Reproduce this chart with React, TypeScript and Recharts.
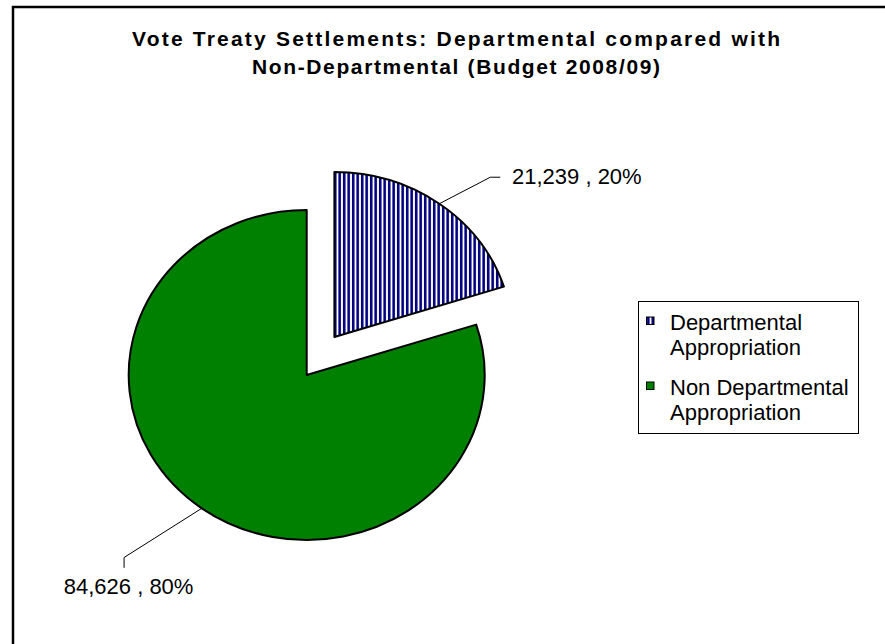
import React from "react";
import { PieChart, Pie, Cell, Legend } from "recharts";

// chart data
const sliceNames = ["Departmental Appropriation", "Non Departmental Appropriation"];
const sliceValues = [21239, 84626];
const legendLines = [
  ["Departmental", "Appropriation"],
  ["Non Departmental", "Appropriation"],
];
const titleLines = [
  "Vote Treaty Settlements:  Departmental compared with",
  "Non-Departmental (Budget 2008/09)",
];

const pieData = sliceNames.map((name, i) => ({ name, value: sliceValues[i] }));

const FONT = "'Liberation Sans', Arial, sans-serif";
const GREEN = "#008000";
const NAVY = "#000080";
const RX_RATIO = 178 / 165; // excel pie is slightly wider than tall
const EXPLODE: Record<string, number> = { "Departmental Appropriation": 47 };

// leader line / label geometry relative to the slice edge
const labelGeom: Record<string, any> = {
  "Departmental Appropriation": { elbow: [51, -26.5], tail: [10, 0], text: [11.7, 6.3], anchor: "start" },
  "Non Departmental Appropriation": { elbow: [-77.7, 49.2], tail: [0, 10.3], text: [4.5, 26.3], anchor: "middle" },
};

const rad = (a: number) => (a * Math.PI) / 180;

function sliceOrigin(cx: number, cy: number, name: string, mid: number) {
  const off = EXPLODE[name] || 0;
  return [cx + off * Math.cos(rad(mid)), cy - off * Math.sin(rad(mid))];
}

function ellPoint(ox: number, oy: number, r: number, a: number) {
  return [ox + r * RX_RATIO * Math.cos(rad(a)), oy - r * Math.sin(rad(a))];
}

function EllipseSector(props: any) {
  const { cx, cy, outerRadius, startAngle, endAngle, fill } = props;
  const name = props.name ?? props.payload?.name;
  const mid = (startAngle + endAngle) / 2;
  const [ox, oy] = sliceOrigin(cx, cy, name, mid);
  const [x1, y1] = ellPoint(ox, oy, outerRadius, startAngle);
  const [x2, y2] = ellPoint(ox, oy, outerRadius, endAngle);
  const large = Math.abs(startAngle - endAngle) > 180 ? 1 : 0;
  const rx = outerRadius * RX_RATIO;
  const d = `M${ox},${oy} L${x1},${y1} A${rx},${outerRadius} 0 ${large} 1 ${x2},${y2} Z`;
  return <path d={d} fill={fill} stroke="#000" strokeWidth={2} strokeLinejoin="round" />;
}

function renderLabel(props: any) {
  const { cx, cy, outerRadius, midAngle, percent, value } = props;
  const name = props.name ?? props.payload?.name;
  const g = labelGeom[name];
  if (!g) return null;
  const [ox, oy] = sliceOrigin(cx, cy, name, midAngle);
  const [ex, ey] = ellPoint(ox, oy, outerRadius, midAngle);
  const bx = ex + g.elbow[0];
  const by = ey + g.elbow[1];
  const tx = bx + g.tail[0];
  const ty = by + g.tail[1];
  return (
    <g>
      <polyline points={`${ex},${ey} ${bx},${by} ${tx},${ty}`} fill="none" stroke="#000" strokeWidth={1} />
      <text x={tx + g.text[0]} y={ty + g.text[1]} textAnchor={g.anchor} fontFamily={FONT} fontSize={22} fill="#000">
        {`${Number(value).toLocaleString("en-US")} , ${Math.round(percent * 100)}%`}
      </text>
    </g>
  );
}

function LegendBox(props: any) {
  const items = props.payload || [];
  return (
    <svg width={222} height={134} style={{ display: "block" }}>
      <defs>
        <pattern id="legStripes" width={4.5} height={8} patternUnits="userSpaceOnUse" x={8}>
          <rect width={4.5} height={8} fill="#fff" />
          <rect x={1} width={2.6} height={8} fill={NAVY} />
        </pattern>
      </defs>
      <rect x={0.5} y={0.5} width={220} height={132} fill="#fff" stroke="#000" strokeWidth={1} />
      {items.map((it: any, i: number) => {
        const top = i * 65;
        return (
          <g key={i}>
            <rect x={8.5} y={top + 16} width={7.5} height={7.5} fill={i === 0 ? "url(#legStripes)" : GREEN} stroke="#000" strokeWidth={1} />
            {legendLines[i].map((ln, j) => (
              <text key={j} x={32} y={top + 29 + j * 25} fontFamily={FONT} fontSize={22} fill="#000">
                {ln}
              </text>
            ))}
          </g>
        );
      })}
    </svg>
  );
}

export default function App() {
  return (
    <div style={{ position: "absolute", left: 0, top: 0, width: 885, height: 644, background: "#fff", overflow: "hidden" }}>
      <svg width={885} height={644} style={{ position: "absolute", left: 0, top: 0 }}>
        <defs>
          <pattern id="vStripes" width={4.5} height={10} patternUnits="userSpaceOnUse">
            <rect width={4.5} height={10} fill="#fff" />
            <rect x={0.9} width={2.6} height={10} fill={NAVY} />
          </pattern>
        </defs>
        <path d="M13,650 L13,7 L890,7" fill="none" stroke="#000" strokeWidth={2.5} />
        {titleLines.map((t, i) => (
          <text
            key={i}
            x={456}
            y={45.7 + i * 28.6}
            textAnchor="middle"
            fontFamily={FONT}
            fontWeight="bold"
            fontSize={21}
            textLength={i === 0 ? 648 : 408}
            lengthAdjust="spacing"
            fill="#000"
          >
            {t}
          </text>
        ))}
      </svg>
      <div style={{ position: "absolute", left: 0, top: 0 }}>
        <PieChart width={885} height={644} margin={{ top: 0, right: 0, bottom: 0, left: 0 }}>
          <Pie
            data={pieData}
            dataKey="value"
            nameKey="name"
            cx={306.7}
            cy={375}
            outerRadius={165}
            startAngle={90}
            endAngle={-270}
            stroke="#000"
            strokeWidth={2}
            shape={EllipseSector}
            label={renderLabel}
            labelLine={false}
            isAnimationActive={false}
          >
            <Cell fill="url(#vStripes)" />
            <Cell fill={GREEN} />
          </Pie>
          <Legend
            layout="vertical"
            align="right"
            verticalAlign="middle"
            content={<LegendBox />}
            wrapperStyle={{ left: 638, top: 301, width: 222, height: 134, right: "auto", bottom: "auto" }}
          />
        </PieChart>
      </div>
    </div>
  );
}
